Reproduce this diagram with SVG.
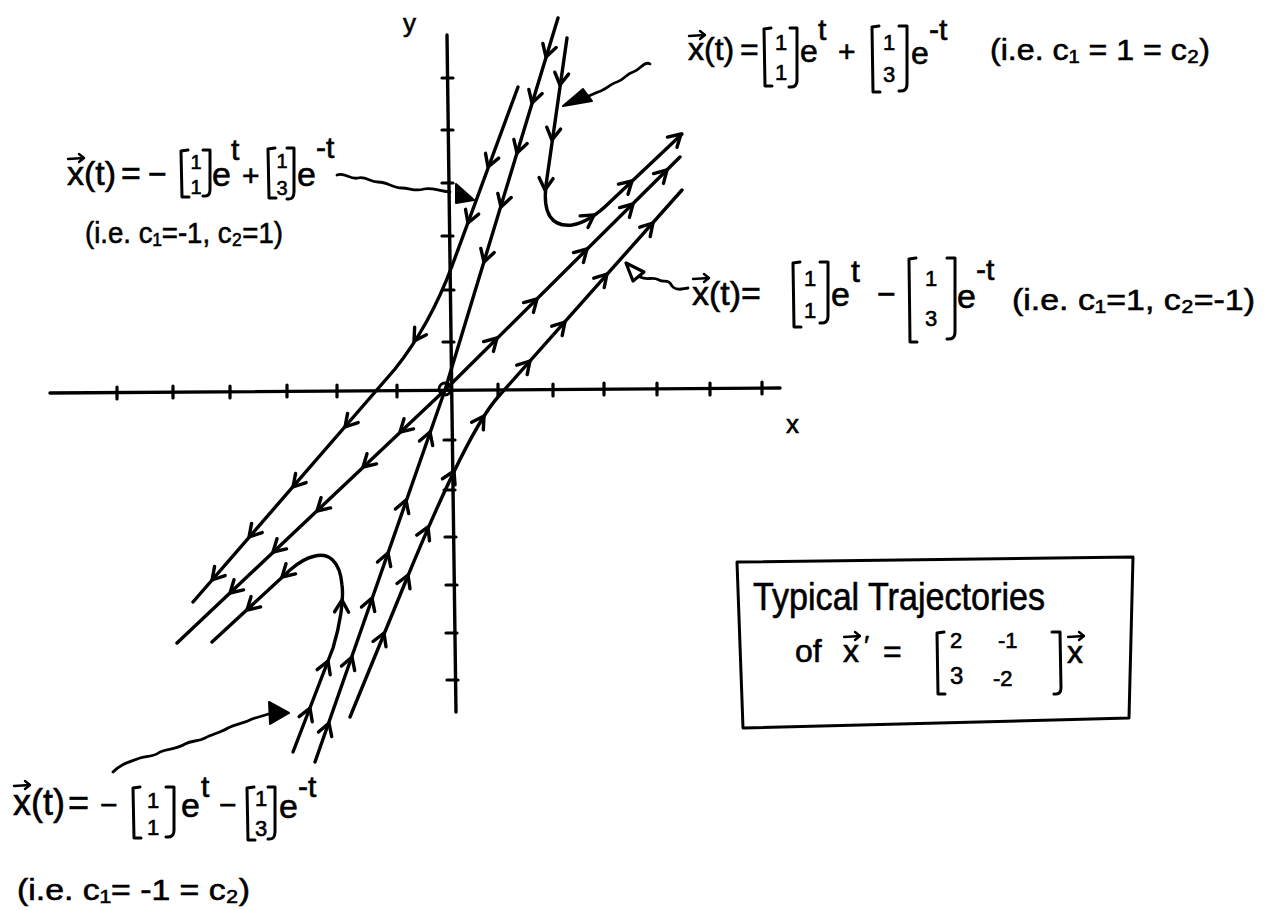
<svg xmlns="http://www.w3.org/2000/svg" xmlns:xlink="http://www.w3.org/1999/xlink" width="1268" height="910" viewBox="0 0 1268 910">
<style>
.ln{fill:none;stroke:#000;stroke-width:3.4;stroke-linecap:round;stroke-linejoin:round}
.ax{fill:none;stroke:#000;stroke-width:3.4;stroke-linecap:round}
.tk{fill:none;stroke:#000;stroke-width:3.2;stroke-linecap:round}
.wv{fill:none;stroke:#000;stroke-width:2.8;stroke-linecap:round;stroke-linejoin:round}
.ah{fill:#000;stroke:#000;stroke-width:2;stroke-linejoin:round}
.aho{fill:#fff;stroke:#000;stroke-width:3.2;stroke-linejoin:round}
.br{fill:none;stroke:#000;stroke-width:3;stroke-linecap:round;stroke-linejoin:round}
.vc{fill:none;stroke:#000;stroke-width:2.4;stroke-linecap:round;stroke-linejoin:round}
text{font-family:"Liberation Sans","DejaVu Sans",Arial,sans-serif;fill:#000;stroke:#000;stroke-width:0.6}
.n{font-size:22px;text-anchor:middle}
.m{font-size:20px;text-anchor:middle}
</style>
<defs>
<path id="ch" class="ln" d="M -12 -7 L 0 0 L -12 7"/>
<path id="va" class="vc" d="M 0 0 L 16 -1 M 11 -5 L 16 -1 L 11 3"/>
</defs>

<g id="axes">
<path class="ax" d="M 50 393 L 780 388"/>
<path class="ax" d="M 447 35 L 456 712"/>
<path class="tk" d="M 117 387 V 399 M 173 386 V 398 M 230 386 V 398 M 287 385 V 397 M 337 385 V 397 M 397 385 V 397 M 498 384 V 396 M 553 384 V 396 M 604 383 V 395 M 657 383 V 395 M 710 383 V 395 M 762 382 V 394"/>
<path class="tk" d="M 442 78 H 453 M 442 130 H 453 M 442 183 H 453 M 442 236 H 453 M 443 290 H 454 M 443 342 H 454 M 444 440 H 455 M 444 490 H 455 M 445 537 H 456 M 446 585 H 457 M 446 633 H 457 M 447 680 H 458"/>
<circle cx="445" cy="389" r="6" fill="none" stroke="#000" stroke-width="2.8"/>
<text x="403" y="32" font-size="26">y</text>
<text x="786" y="433" font-size="26">x</text>
</g>

<g id="trajectories">
<path class="ln" d="M 558 18 L 445 390 L 315 762"/>
<path class="ln" d="M 177 643 L 445 390 L 680 157"/>
<path class="ln" d="M 518 87 L 452 266 Q 430 325 395 369 L 193 602"/>
<path class="ln" d="M 350 717 L 405 583 Q 467 432 498 397 L 682 190"/>
<path class="ln" d="M 567 38 L 546 185 Q 541 228 572 225 Q 590 222 610 202 L 682 134"/>
<path class="ln" d="M 293 752 L 333 648 C 340 625 344 600 342 585 C 340 560 328 553 315 556 C 305 558 298 563 290 570 L 212 642"/>
</g>

<g id="arrowheads">
<use xlink:href="#ch" transform="translate(546 57) rotate(107)"/>
<use xlink:href="#ch" transform="translate(532 103) rotate(107)"/>
<use xlink:href="#ch" transform="translate(517 153) rotate(107)"/>
<use xlink:href="#ch" transform="translate(501 207) rotate(107)"/>
<use xlink:href="#ch" transform="translate(484 262) rotate(107)"/>
<use xlink:href="#ch" transform="translate(430 432) rotate(-71)"/>
<use xlink:href="#ch" transform="translate(406 500) rotate(-71)"/>
<use xlink:href="#ch" transform="translate(388 553) rotate(-71)"/>
<use xlink:href="#ch" transform="translate(372 598) rotate(-71)"/>
<use xlink:href="#ch" transform="translate(352 657) rotate(-71)"/>
<use xlink:href="#ch" transform="translate(329 723) rotate(-71)"/>

<use xlink:href="#ch" transform="translate(497 338) rotate(-45)"/>
<use xlink:href="#ch" transform="translate(537 299) rotate(-45)"/>
<use xlink:href="#ch" transform="translate(587 249) rotate(-45)"/>
<use xlink:href="#ch" transform="translate(633 204) rotate(-45)"/>
<use xlink:href="#ch" transform="translate(667 170) rotate(-45)"/>
<use xlink:href="#ch" transform="translate(400 432) rotate(137)"/>
<use xlink:href="#ch" transform="translate(363 467) rotate(137)"/>
<use xlink:href="#ch" transform="translate(317 511) rotate(137)"/>
<use xlink:href="#ch" transform="translate(273 552) rotate(137)"/>
<use xlink:href="#ch" transform="translate(230 593) rotate(137)"/>

<use xlink:href="#ch" transform="translate(488 167) rotate(110)"/>
<use xlink:href="#ch" transform="translate(468 223) rotate(110)"/>
<use xlink:href="#ch" transform="translate(414 341) rotate(123)"/>
<use xlink:href="#ch" transform="translate(345 427) rotate(131)"/>
<use xlink:href="#ch" transform="translate(293 487) rotate(131)"/>
<use xlink:href="#ch" transform="translate(249 537) rotate(131)"/>
<use xlink:href="#ch" transform="translate(212 580) rotate(131)"/>

<use xlink:href="#ch" transform="translate(384 633) rotate(-68)"/>
<use xlink:href="#ch" transform="translate(408 575) rotate(-68)"/>
<use xlink:href="#ch" transform="translate(428 527) rotate(-66)"/>
<use xlink:href="#ch" transform="translate(454 471) rotate(-64)"/>
<use xlink:href="#ch" transform="translate(484 416) rotate(-57)"/>
<use xlink:href="#ch" transform="translate(530 361) rotate(-48)"/>
<use xlink:href="#ch" transform="translate(565 322) rotate(-48)"/>
<use xlink:href="#ch" transform="translate(607 274) rotate(-48)"/>
<use xlink:href="#ch" transform="translate(653 223) rotate(-48)"/>

<use xlink:href="#ch" transform="translate(560 85) rotate(98)"/>
<use xlink:href="#ch" transform="translate(552 140) rotate(98)"/>
<use xlink:href="#ch" transform="translate(545 190) rotate(95)"/>
<use xlink:href="#ch" transform="translate(594 215) rotate(-34)"/>
<use xlink:href="#ch" transform="translate(632 181) rotate(-43)"/>
<use xlink:href="#ch" transform="translate(681 134) rotate(-43)"/>

<use xlink:href="#ch" transform="translate(310 708) rotate(-69)"/>
<use xlink:href="#ch" transform="translate(328 661) rotate(-69)"/>
<use xlink:href="#ch" transform="translate(342 600) rotate(-88)"/>
<use xlink:href="#ch" transform="translate(282 577) rotate(137)"/>
<use xlink:href="#ch" transform="translate(247 610) rotate(137)"/>
</g>

<g id="pointers">
<path class="wv" d="M 650 64 C 645 60 640 70 633 72 C 626 74 624 80 617 82 C 610 84 606 90 598 92 L 584 98"/>
<polygon class="ah" points="563,106 583,89 592,101"/>
<path class="wv" d="M 337 175 C 345 172 350 180 358 178 C 366 176 370 182 378 182 C 388 182 392 188 402 188 C 410 188 415 192 424 189 C 432 187 438 191 450 192"/>
<polygon class="ah" points="474,200 456,184 456,203"/>
<polygon class="aho" points="626,263 644,272 633,281"/>
<path class="wv" d="M 640 277 C 648 281 652 276 659 280 C 664 283 668 278 672 286 C 676 291 682 289 688 288"/>
<path class="wv" d="M 113 772 C 120 764 130 762 140 758 C 148 755 152 758 160 752 C 168 748 175 750 185 744 C 192 740 198 742 205 738 C 212 734 220 733 228 728 C 236 724 245 723 252 719 L 272 713"/>
<polygon class="ah" points="289,713 269,702 270,724"/>
</g>

<g id="eq-top">
<text x="688" y="60" font-size="32">x(t)</text>
<use xlink:href="#va" x="689" y="36"/>
<text x="740" y="60" font-size="32">=</text>
<path class="br" d="M 771 28 L 764 29 L 765 86 L 772 86 M 790 28 L 797 28 L 797 80 Q 797 88 789 87"/>
<text class="n" x="781" y="50">1</text>
<text class="n" x="781" y="80">1</text>
<text x="800" y="62" font-size="32">e</text>
<text x="818" y="40" font-size="30">t</text>
<text x="838" y="62" font-size="30">+</text>
<path class="br" d="M 879 26 L 872 27 L 873 92 L 880 92 M 899 26 L 907 26 L 907 84 Q 907 92 899 91"/>
<text class="n" x="889" y="50">1</text>
<text class="n" x="889" y="82">3</text>
<text x="911" y="64" font-size="32">e</text>
<text x="929" y="40" font-size="30">-t</text>
<text x="990" y="60" font-size="30" textLength="220" lengthAdjust="spacingAndGlyphs">(i.e.  c₁ = 1 = c₂)</text>
</g>

<g id="eq-left">
<text x="67" y="185" font-size="34">x(t)</text>
<use xlink:href="#va" x="68" y="159"/>
<text x="121" y="185" font-size="34">=</text>
<text x="148" y="185" font-size="32">−</text>
<path class="br" d="M 188 150 L 181 151 L 182 197 L 189 197 M 203 150 L 210 150 L 210 190 Q 210 197 203 196"/>
<text class="m" x="196" y="169">1</text>
<text class="m" x="196" y="194">1</text>
<text x="212" y="186" font-size="34">e</text>
<text x="231" y="160" font-size="30">t</text>
<text x="242" y="186" font-size="30">+</text>
<path class="br" d="M 275 148 L 268 149 L 269 198 L 276 198 M 287 148 L 294 148 L 294 192 Q 294 200 287 199"/>
<text class="m" x="282" y="168">1</text>
<text class="m" x="282" y="195">3</text>
<text x="297" y="186" font-size="34">e</text>
<text x="316" y="158" font-size="30">-t</text>
<text x="85" y="243" font-size="30" textLength="198" lengthAdjust="spacingAndGlyphs">(i.e. c₁=-1, c₂=1)</text>
</g>

<g id="eq-mid">
<text x="692" y="305" font-size="34">x(t)=</text>
<use xlink:href="#va" x="693" y="279"/>
<path class="br" d="M 800 262 L 793 263 L 794 327 L 801 327 M 820 262 L 828 262 L 828 316 Q 828 324 820 323"/>
<text class="n" x="810" y="286">1</text>
<text class="n" x="810" y="318">1</text>
<text x="831" y="306" font-size="34">e</text>
<text x="851" y="282" font-size="32">t</text>
<text x="877" y="305" font-size="32">−</text>
<path class="br" d="M 916 258 L 909 259 L 910 342 L 917 342 M 947 258 L 955 258 L 955 332 Q 955 340 947 339"/>
<text class="n" x="931" y="286">1</text>
<text class="n" x="931" y="326" font-size="24">3</text>
<text x="957" y="308" font-size="34">e</text>
<text x="976" y="280" font-size="30">-t</text>
<text x="1012" y="310" font-size="30" textLength="243" lengthAdjust="spacingAndGlyphs">(i.e. c₁=1, c₂=-1)</text>
</g>

<g id="eq-bottom">
<text x="13" y="815" font-size="36">x(t)</text>
<use xlink:href="#va" x="14" y="786"/>
<text x="68" y="815" font-size="36">=</text>
<text x="100" y="815" font-size="30">−</text>
<path class="br" d="M 140 787 L 133 788 L 134 838 L 141 838 M 166 787 L 174 787 L 174 830 Q 174 838 166 837"/>
<text class="n" x="153" y="808">1</text>
<text class="n" x="153" y="835">1</text>
<text x="181" y="817" font-size="34">e</text>
<text x="201" y="797" font-size="30">t</text>
<text x="219" y="815" font-size="30">−</text>
<path class="br" d="M 254 787 L 247 788 L 248 840 L 255 840 M 268 787 L 275 787 L 275 832 Q 275 840 268 839"/>
<text class="n" x="261" y="806">1</text>
<text class="n" x="261" y="836">3</text>
<text x="279" y="818" font-size="34">e</text>
<text x="298" y="797" font-size="30">-t</text>
<text x="17" y="900" font-size="30" textLength="233" lengthAdjust="spacingAndGlyphs">(i.e. c₁= -1 = c₂)</text>
</g>

<g id="title-box">
<path class="br" d="M 737 562 L 1133 557 L 1129 718 L 743 728 Z" stroke-width="3.2"/>
<text x="753" y="610" font-size="38" textLength="292" lengthAdjust="spacingAndGlyphs">Typical Trajectories</text>
<text x="795" y="662" font-size="32">of</text>
<text x="843" y="662" font-size="32">x</text>
<use xlink:href="#va" x="844" y="637"/>
<text x="864" y="655" font-size="28">′</text>
<text x="883" y="662" font-size="32">=</text>
<path class="br" d="M 944 632 L 937 633 L 938 694 L 945 694 M 1052 632 L 1060 632 L 1061 688 Q 1061 695 1054 694"/>
<text x="950" y="648" font-size="22">2</text>
<text x="998" y="648" font-size="22">-1</text>
<text x="950" y="684" font-size="24">3</text>
<text x="993" y="686" font-size="22">-2</text>
<text x="1067" y="663" font-size="32">x</text>
<use xlink:href="#va" x="1068" y="637"/>
</g>
</svg>
